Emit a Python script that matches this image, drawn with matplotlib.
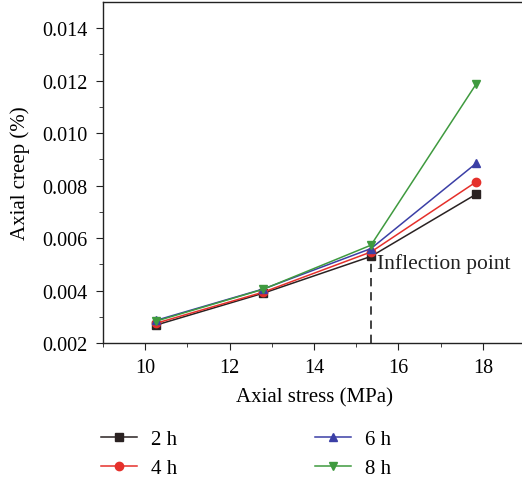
import matplotlib.pyplot as plt

# Axial creep vs. axial stress at four loading durations
stress = [10.25, 12.8, 15.35, 17.85]
creep_2h = [0.00268, 0.00390, 0.00530, 0.00768]
creep_4h = [0.00275, 0.00394, 0.00547, 0.00815]
creep_6h = [0.00286, 0.00406, 0.00560, 0.00886]
creep_8h = [0.00283, 0.00405, 0.00573, 0.01189]
inflection_x = 15.35
inflection_y = 0.00530

series = [
    ("2 h", creep_2h, "#2a2222", "s"),
    ("4 h", creep_4h, "#e5302b", "o"),
    ("6 h", creep_6h, "#3b3fa6", "^"),
    ("8 h", creep_8h, "#3f9a3f", "v"),
]

plt.rcParams["font.family"] = ["Liberation Serif", "DejaVu Serif"]
plt.rcParams["font.size"] = 14.5

fig = plt.figure(figsize=(5.22, 4.81), dpi=100)
ax = fig.add_axes([103 / 522, 137 / 481, 422 / 522, 341 / 481])

for label, y, color, marker in series:
    ax.plot(stress, y, color=color, marker=marker, markersize=6, lw=1.1, label=label)

ax.plot([inflection_x, inflection_x], [0.002, inflection_y], color="#222222",
        lw=1.2, ls=(0, (5, 3.5)), zorder=0)
ax.text(inflection_x + 0.15, inflection_y - 0.00025, "Inflection point",
        fontsize=15.5, va="center", ha="left", color="#222222")

ax.set_xlim(9, 19)
ax.set_ylim(0.002, 0.015)
ax.set_xticks([10, 12, 14, 16, 18])
ax.set_xticks([9, 11, 13, 15, 17, 19], minor=True)
ax.set_yticks([0.002, 0.004, 0.006, 0.008, 0.010, 0.012, 0.014])
ax.set_yticks([0.003, 0.005, 0.007, 0.009, 0.011, 0.013], minor=True)
ax.set_yticklabels([f"{v:.3f}" for v in ax.get_yticks()])
ax.tick_params(which="both", direction="out", top=False, right=False, color="#222222")
ax.tick_params(which="major", length=5, pad=6)
ax.tick_params(which="minor", length=3)
for s in ax.spines.values():
    s.set_linewidth(1.0)
    s.set_color("#222222")

ax.set_xlabel("Axial stress (MPa)", fontsize=15, labelpad=7)
ax.set_ylabel("Axial creep (%)", fontsize=15, labelpad=9)

fig.legend(loc="center", bbox_to_anchor=(0.472, 0.055), ncol=2, frameon=False,
           handlelength=1.7, handletextpad=0.7, columnspacing=6.6,
           labelspacing=0.45, fontsize=15)

fig.savefig("out.png", dpi=100)
